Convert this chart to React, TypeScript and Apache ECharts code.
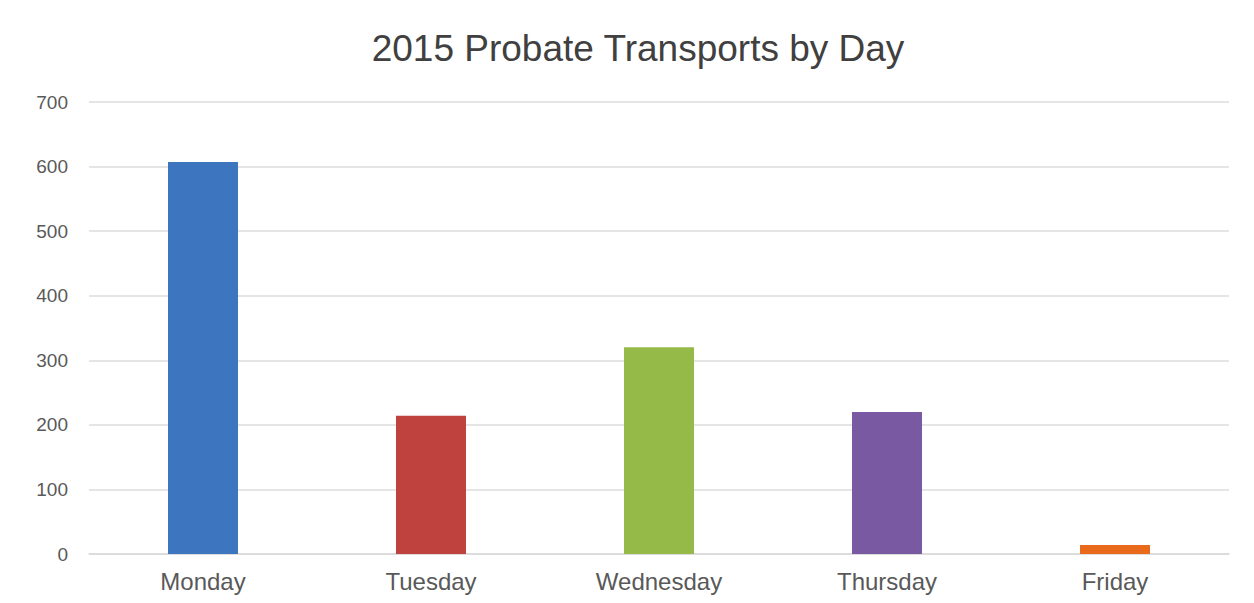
import React, { useEffect, useRef } from "react";
import * as echarts from "echarts";

const categories = ["Monday", "Tuesday", "Wednesday", "Thursday", "Friday"];
const values = [607, 214, 320, 220, 14];
const barColors = ["#3d76bf", "#c0423f", "#96ba47", "#7a59a3", "#ea6a1c"];
const titleText = "2015 Probate Transports by Day";

export default function App() {
  const ref = useRef<HTMLDivElement>(null);
  useEffect(() => {
    const chart = echarts.init(ref.current!, null, { renderer: "svg" });
    chart.setOption({
      animation: false,
      backgroundColor: "#ffffff",
      title: {
        text: titleText,
        left: 633,
        textAlign: "center",
        top: 25,
        textStyle: { fontFamily: "Liberation Sans", fontSize: 37, fontWeight: "normal", color: "#404040" },
      },
      grid: { left: 89, right: 25, top: 102, bottom: 49 },
      xAxis: {
        type: "category",
        data: categories,
        axisLine: { show: true, lineStyle: { color: "#d9d9d9", width: 1.5 } },
        axisTick: { show: false },
        axisLabel: { fontFamily: "Liberation Sans", fontSize: 24, color: "#595959", margin: 15 },
      },
      yAxis: {
        type: "value",
        min: 0,
        max: 700,
        interval: 100,
        axisLine: { show: false },
        axisTick: { show: false },
        splitLine: { lineStyle: { color: "#dcdcdc", width: 1.5 } },
        axisLabel: { fontFamily: "Liberation Sans", fontSize: 19, color: "#595959", margin: 21 },
      },
      series: [
        {
          type: "bar",
          barWidth: 70,
          data: values.map((v, i) => ({ value: v, itemStyle: { color: barColors[i] } })),
        },
      ],
    });
    return () => chart.dispose();
  }, []);
  return <div ref={ref} style={{ position: "fixed", left: 0, top: 0, width: 1254, height: 603 }} />;
}
